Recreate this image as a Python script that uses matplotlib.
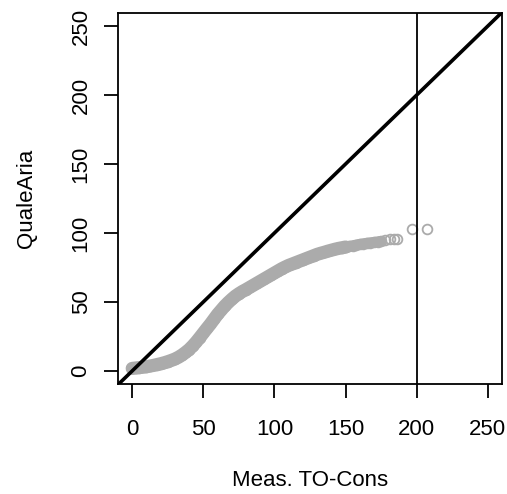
import matplotlib.pyplot as plt

# quantiles (x: Meas. TO-Cons, y: QualeAria)
qx = [0, 2.5, 5, 7.5, 10, 12.5, 15, 17.5, 20, 22.5, 25, 27.5, 30, 32.5, 35, 37.5,
      40, 42.5, 45, 47.5, 50, 52.5, 55, 57.5, 60, 62.5, 65, 67.5, 70, 72.5, 75,
      77.5, 80, 82.5, 85, 87.5, 90, 92.5, 95, 97.5, 100, 102.5, 105, 107.5, 110,
      112.5, 115, 117.5, 120, 122.5, 125, 127.5, 130, 132.5, 135, 137.5, 140,
      142.5, 145, 147.5, 150, 152.5, 155, 157.5, 160, 162.5, 165, 167.5, 170,
      172.5, 175, 178, 181, 184, 186, 197, 207.5]
qy = [1.8, 2.1, 2.4, 2.7, 3.0, 3.5, 4.0, 4.6, 5.2, 5.9, 6.7, 7.6, 8.6, 9.9, 11.5, 13.4,
      15.5, 18.1, 21, 24.2, 27.5, 30.8, 34, 37.5, 41, 44, 47, 49.6, 52, 54.2, 56,
      57.6, 59, 60.5, 62, 63.5, 65, 66.5, 68, 69.5, 71, 72.5, 74, 75.3, 76.5,
      77.5, 78.5, 79.5, 80.5, 81.5, 82.5, 83.5, 84.5, 85.3, 86, 86.8, 87.5,
      88.2, 88.8, 89.3, 89.8, 90.3, 90.8, 91.3, 91.8, 92.2, 92.6, 92.9, 93.2,
      93.6, 94, 95, 95.3, 95.6, 95.8, 102.7, 102.7]
n_wide = 61   # up to x=150 the points pile up into a thick band
n_dense = 71  # up to x=175 they still overlap
ticks = [0, 50, 100, 150, 200, 250]
threshold = 200
grey = '#ababab'

plt.rcParams['font.family'] = ['Liberation Sans', 'DejaVu Sans']

fig = plt.figure(figsize=(5.07, 4.94), dpi=100)
ax = fig.add_axes([118 / 507, 110 / 494, 384 / 507, 371 / 494])

# overlapping circles merge into a solid band
ax.plot(qx[:n_dense], qy[:n_dense], color=grey, lw=7.8,
        solid_capstyle='round', solid_joinstyle='round')
ax.plot(qx[:n_wide], qy[:n_wide], color=grey, lw=9.5,
        solid_capstyle='round', solid_joinstyle='round')
ax.plot(qx, qy, linestyle='none', marker='o', ms=7, mfc='none',
        mec=grey, mew=1.3)

# 1:1 line and threshold
ax.axline((0, 0), slope=1, color='black', lw=2.6)
ax.axvline(threshold, color='black', lw=1.3)

ax.set_xlim(-10, 260)
ax.set_ylim(-9.5, 259.5)
ax.set_xticks(ticks)
ax.set_yticks(ticks)
ax.tick_params(length=10, width=1.3, labelsize=16)
ax.tick_params(axis='x', pad=15)
ax.tick_params(axis='y', pad=9)
for lbl in ax.get_yticklabels():
    lbl.set_rotation(90)
    lbl.set_va('center')
for s in ax.spines.values():
    s.set_linewidth(1.3)

ax.set_xlabel('Meas. TO-Cons', fontsize=16, labelpad=22)
ax.set_ylabel('QualeAria', fontsize=16, labelpad=24)

fig.savefig('out.png', dpi=100)
